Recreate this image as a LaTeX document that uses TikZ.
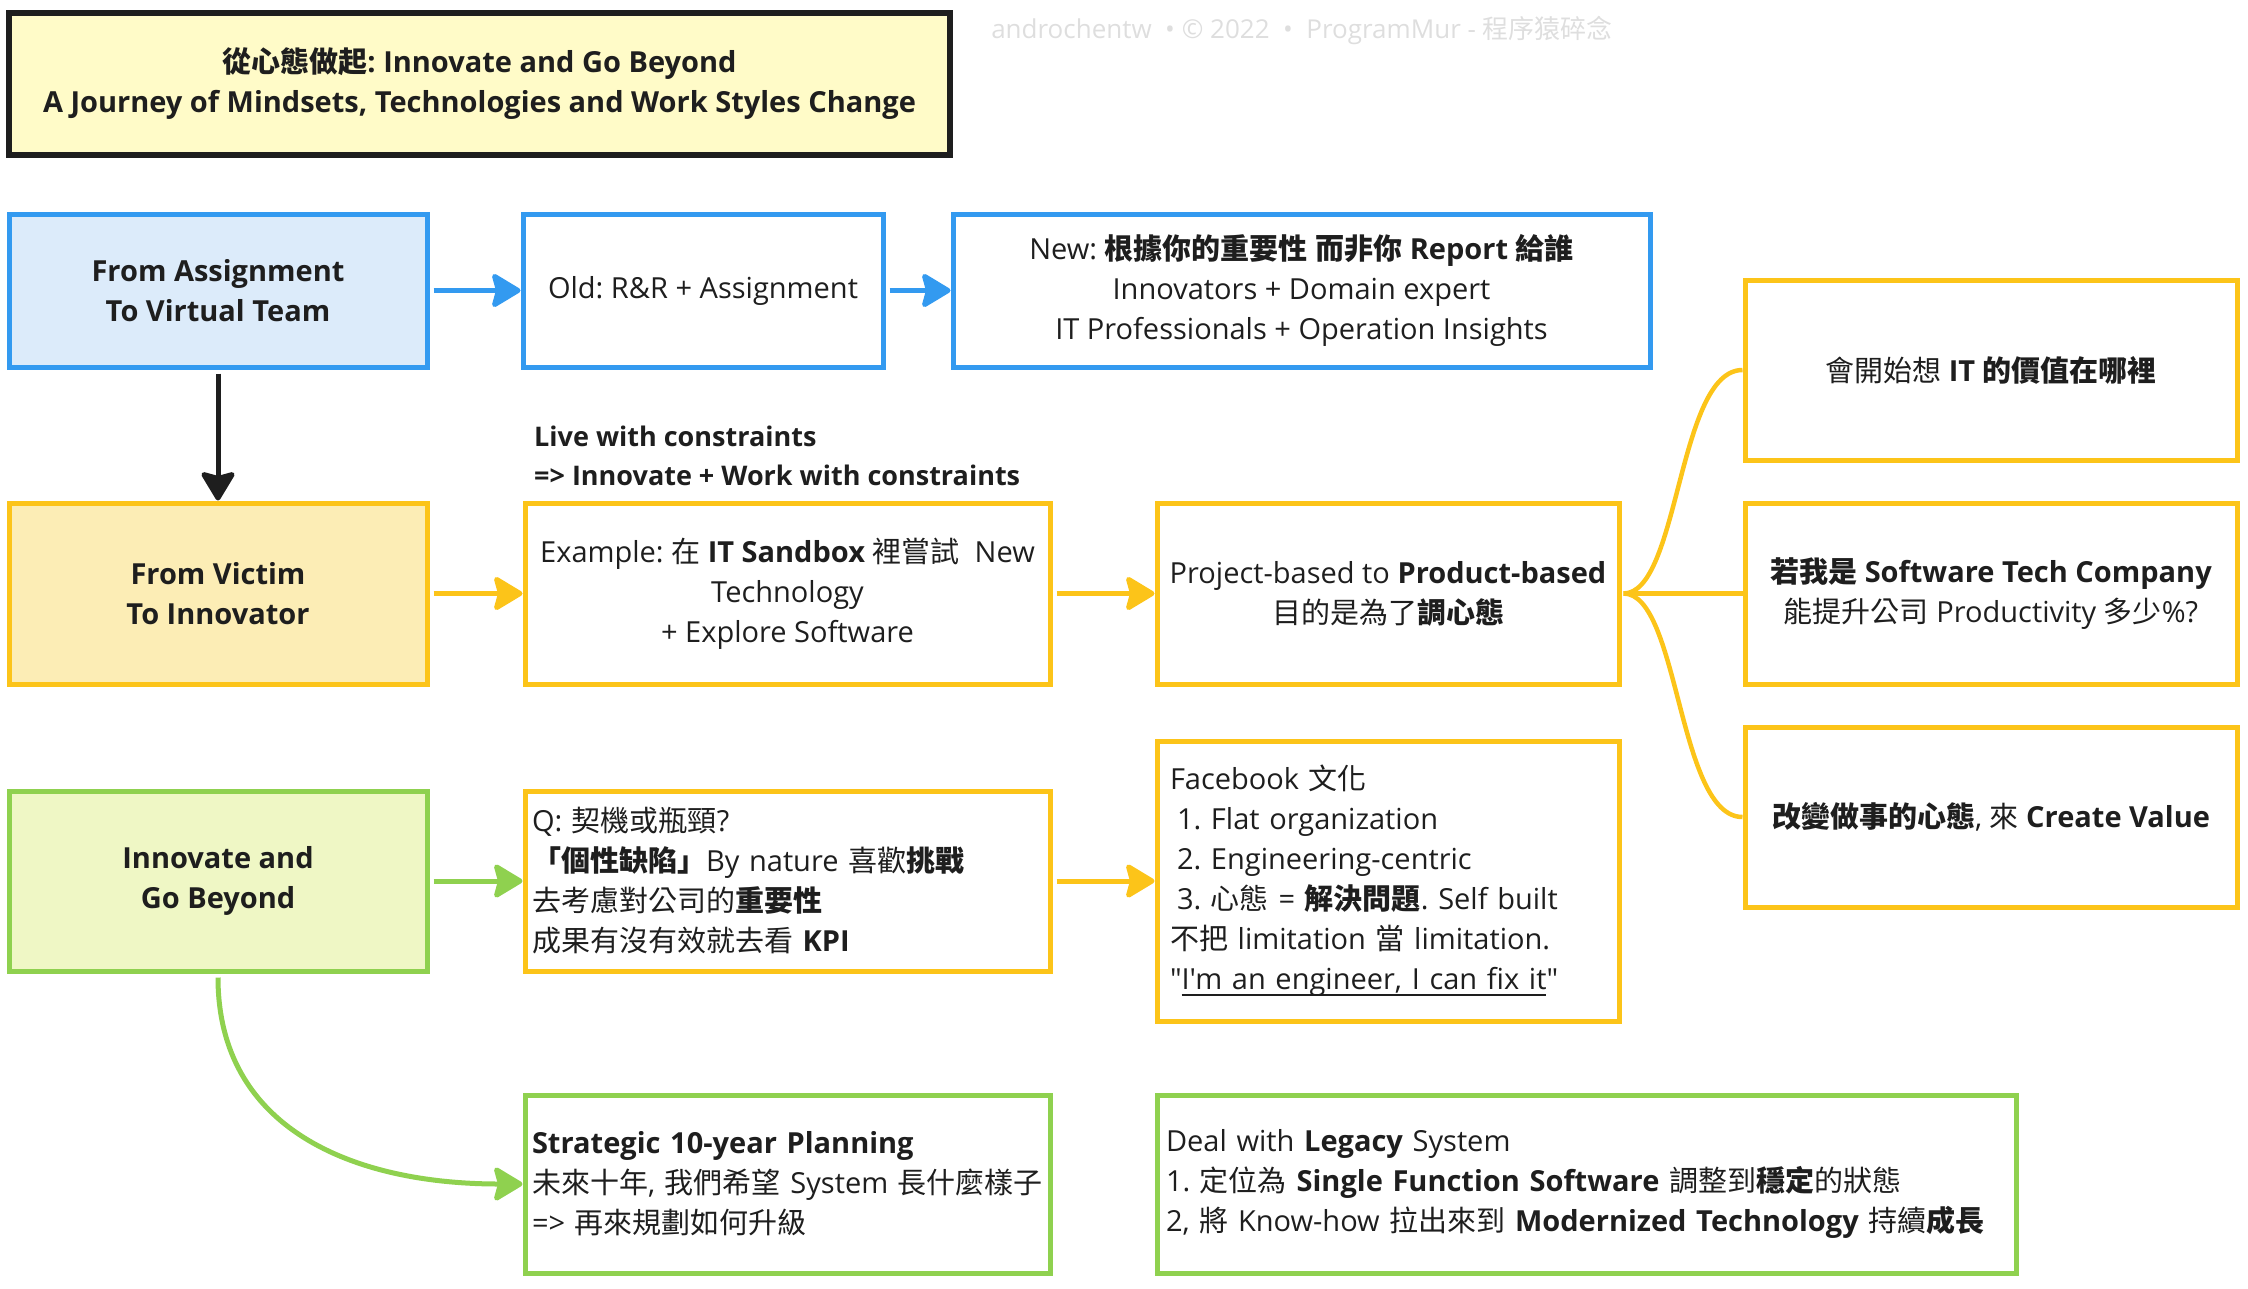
\documentclass[tikz,border=0pt]{standalone}
\usepackage{fontspec}
\usetikzlibrary{arrows.meta}
\setmainfont{Open Sans}
\newfontfamily\latin{Open Sans}
\newfontfamily\cjk{Noto Sans CJK TC}
\frenchspacing
\XeTeXinterchartokenstate=1
\newXeTeXintercharclass\CJKcls
\makeatletter
\count@="3000
\loop\XeTeXcharclass\count@=\CJKcls\advance\count@ 1 \ifnum\count@<"3040 \repeat
\count@="4E00
\loop\XeTeXcharclass\count@=\CJKcls\advance\count@ 1 \ifnum\count@<"A000 \repeat
\count@="FF00
\loop\XeTeXcharclass\count@=\CJKcls\advance\count@ 1 \ifnum\count@<"FFF0 \repeat
\makeatother
\XeTeXinterchartoks 0 \CJKcls = {\cjk}
\XeTeXinterchartoks 4095 \CJKcls = {\cjk}
\XeTeXinterchartoks \CJKcls 0 = {\latin}
\XeTeXinterchartoks \CJKcls 4095 = {\latin}
\newcommand\uline[1]{\setbox0=\hbox{#1}\rlap{\rule[-6pt]{\wd0}{2pt}}\box0}
\definecolor{ink}{HTML}{1E1E1E}
\definecolor{bluel}{HTML}{339AF0}
\definecolor{bluef}{HTML}{DCEBFA}
\definecolor{yell}{HTML}{FCC419}
\definecolor{yelf}{HTML}{FCEDB5}
\definecolor{grnl}{HTML}{8FD14F}
\definecolor{grnf}{HTML}{EFF7C5}
\definecolor{titf}{HTML}{FFFBC8}
\definecolor{wmark}{HTML}{DEDEDE}
\tikzset{
  bx/.style={draw, line width=5pt, text=ink, align=center, inner sep=0pt,
    font=\fontsize{29}{40}\selectfont},
  bold/.style={font=\fontsize{29}{40}\selectfont\bfseries},
  bluebox/.style={bx, draw=bluel},
  yelbox/.style={bx, draw=yell},
  grnbox/.style={bx, draw=grnl},
  lbox/.style={align=left, text width=#1},
  arr/.style={line width=5pt, -{Stealth[length=32pt,width=38pt,inset=5pt,round]}, shorten <=4pt},
  brace/.style={line width=4.5pt, draw=yell, shorten <=2pt}
}
\begin{document}
\begin{tikzpicture}[x=1pt,y=-1pt]
\useasboundingbox (0,0) rectangle (2248,1288);
% title
\node[bx, bold, draw=ink, fill=titf, line width=5.5pt, minimum width=941pt, minimum height=142pt] (title) at (479.5,84)
  {從心態做起: Innovate and Go Beyond\\A Journey of Mindsets, Technologies and Work Styles Change};
\node[text=wmark, font=\fontsize{26}{30}\selectfont, inner sep=0pt] (wm) at (1302,30)
  {androchentw~ • © 2022 ~•~ ProgramMur - 程序猿碎念};
% row 1
\node[bluebox, bold, fill=bluef, minimum width=418pt, minimum height=153pt] (b1) at (218,290.5)
  {From Assignment\\To Virtual Team};
\node[bluebox, minimum width=360pt, minimum height=153pt] (b2) at (703,290.5)
  {Old: R\&R + Assignment};
\node[bluebox, minimum width=697pt, minimum height=153pt] (b3) at (1301.5,290.5)
  {New: \textbf{根據你的重要性 而非你 Report 給誰}\\Innovators + Domain expert\\IT Professionals + Operation Insights};
% row 2
\node[text=ink, font=\fontsize{27}{39}\selectfont\bfseries, align=left, inner sep=0pt, anchor=west] (lbl) at (534,456)
  {Live with constraints\\=> Innovate + Work with constraints};
\node[yelbox, bold, fill=yelf, minimum width=418pt, minimum height=181pt] (y1) at (218,593.5)
  {From Victim\\To Innovator};
\node[yelbox, minimum width=525pt, minimum height=181pt] (y2) at (787.5,593.5)
  {Example: 在 \textbf{IT Sandbox} 裡嘗試~ New\\Technology\\+ Explore Software};
\node[yelbox, minimum width=462pt, minimum height=181pt] (y3) at (1388,593.5)
  {Project-based to \textbf{Product-based}\\目的是為了\textbf{調心態}};
\node[yelbox, minimum width=492pt, minimum height=180pt] (rA) at (1991,370)
  {會開始想 \textbf{IT 的價值在哪裡}};
\node[yelbox, minimum width=492pt, minimum height=181pt] (rB) at (1991,593.5)
  {\textbf{若我是 Software Tech Company}\\能提升公司 Productivity 多少\%?};
\node[yelbox, minimum width=492pt, minimum height=180pt] (rC) at (1991,817)
  {\textbf{改變做事的心態}, 來 \textbf{Create Value}};
% row 3
\node[grnbox, bold, fill=grnf, minimum width=418pt, minimum height=180pt] (g1) at (218,881)
  {Innovate and\\Go Beyond};
\node[yelbox, lbox=511pt, minimum width=525pt, minimum height=180pt] (q) at (787.5,881)
  {Q: 契機或瓶頸?\\\textbf{「個性缺陷」}By nature 喜歡\textbf{挑戰}\\去考慮對公司的\textbf{重要性}\\成果有沒有效就去看 \textbf{KPI}};
\node[yelbox, lbox=436pt, minimum width=462pt, minimum height=280pt] (fb) at (1388,881)
  {Facebook 文化\\\hspace*{7pt}1. Flat organization\\\hspace*{7pt}2. Engineering-centric\\\hspace*{7pt}3. 心態 = \textbf{解決問題}. Self built\\不把 limitation 當 limitation.\\"\uline{I'm an engineer, I can fix it}"};
% row 4
\node[grnbox, lbox=511pt, minimum width=525pt, minimum height=178pt] (s) at (787.5,1184)
  {\textbf{Strategic 10-year Planning}\\未來十年, 我們希望 System 長什麼樣子\\=> 再來規劃如何升級};
\node[grnbox, lbox=841pt, minimum width=859pt, minimum height=178pt] (leg) at (1586.5,1184)
  {Deal with \textbf{Legacy} System\\1. 定位為 \textbf{Single Function Software} 調整到\textbf{穩定}的狀態\\2, 將 Know-how 拉出來到 \textbf{Modernized Technology} 持續\textbf{成長}};
% connectors
\draw[arr, draw=bluel] (b1) -- (b2);
\draw[arr, draw=bluel] (b2) -- (b3);
\draw[arr, draw=ink] (b1) -- (y1);
\draw[arr, draw=yell] (y1) -- (y2);
\draw[arr, draw=yell] (y2) -- (y3);
\draw[arr, draw=grnl] (g1) -- (q);
\draw[arr, draw=yell] (q.east) -- (fb.west);
\draw[arr, draw=grnl] (g1.south) .. controls +(0,155) and +(-170,0) .. (s.west);
\draw[brace] (y3.east) .. controls +(58,0) and +(-65,0) .. (rA.west);
\draw[brace] (y3.east) -- (rB.west);
\draw[brace] (y3.east) .. controls +(58,0) and +(-65,0) .. (rC.west);
\end{tikzpicture}
\end{document}
